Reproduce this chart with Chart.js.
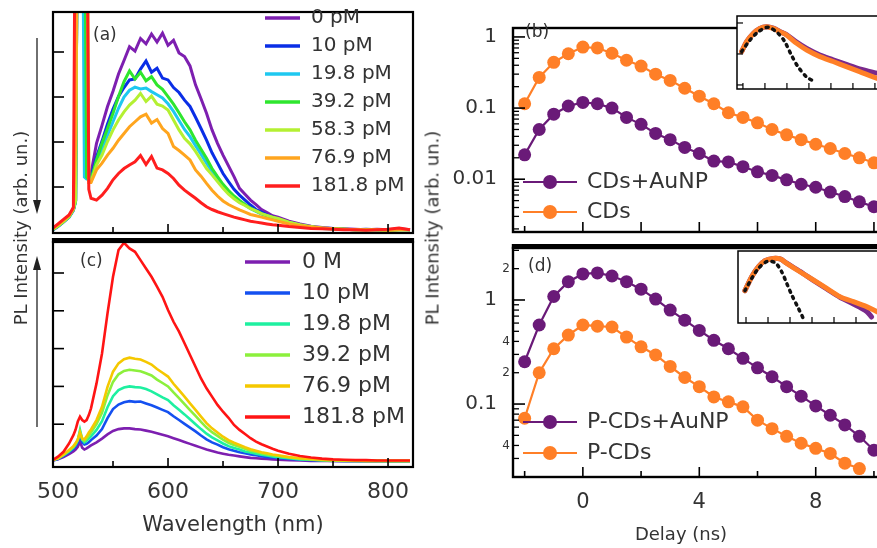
<!DOCTYPE html>
<html>
<head>
<meta charset="utf-8">
<title>PL spectra and decays</title>
<script src="https://cdn.jsdelivr.net/npm/chart.js@4.4.1/dist/chart.umd.min.js"></script>
<style>
  html, body { margin: 0; padding: 0; background: #fff; }
  #fig { position: relative; width: 877px; height: 548px; overflow: hidden; font-family: "DejaVu Sans", sans-serif; color: #333; }
  #fig canvas { position: absolute; }
  .ylab { position: absolute; font-size: 18px; white-space: nowrap; transform: translate(-50%, -50%) rotate(-90deg); }
  #arrows { position: absolute; left: 0; top: 0; }
</style>
</head>
<body>
<div id="fig">
  <canvas id="cA" width="440" height="240" style="left:0;top:0"></canvas>
  <canvas id="cC" width="440" height="318" style="left:0;top:230px"></canvas>
  <canvas id="cB" width="455" height="260" style="left:440px;top:0"></canvas>
  <canvas id="cD" width="455" height="318" style="left:440px;top:230px"></canvas>
  <canvas id="cBi" width="180" height="100" style="left:720px;top:0"></canvas>
  <canvas id="cDi" width="180" height="100" style="left:720px;top:240px"></canvas>
  <div class="ylab" style="left:20px;top:228px">PL Intensity (arb. un.)</div>
  <div class="ylab" style="left:432px;top:228px">PL Intensity (arb. un.)</div>
  <svg id="arrows" width="60" height="548">
    <line x1="37" y1="38" x2="37" y2="202" stroke="#222" stroke-width="1.3"/>
    <polygon points="33,200 41,200 37,214" fill="#222"/>
    <line x1="37" y1="427" x2="37" y2="268" stroke="#222" stroke-width="1.3"/>
    <polygon points="33,270 41,270 37,256" fill="#222"/>
  </svg>
</div>
<script>
// ---- spectra (a) and (c): shared wavelength grid (nm) ----
const wavelengths = [495, 500, 505, 510, 514, 516, 518, 520, 522, 524, 526, 528,
  530, 535, 540, 545, 550, 555, 560, 565, 570, 575, 580, 585, 590, 595, 600, 605, 610, 615,
  620, 625, 630, 635, 640, 645, 650, 655, 660, 665, 670, 675, 680, 685, 690, 695, 700,
  710, 720, 730, 740, 750, 760, 770, 780, 790, 800, 810, 820];

const labelsA = ['0 pM', '10 pM', '19.8 pM', '39.2 pM', '58.3 pM', '76.9 pM', '181.8 pM'];
const colorsA = ['#7d1fb0', '#0a2ee6', '#1ec8f0', '#2ee62e', '#b4f032', '#ffa51e', '#ff1e1e'];

const a0 = [0.06, 0.14, 0.24, 0.34, 0.50, 0.70, 9, 9, 9, 9, 1.30, 1.20,
  1.30, 1.97, 2.37, 2.79, 3.13, 3.51, 3.81, 4.12, 4.02, 4.30, 4.18, 4.40, 4.22, 4.42, 4.15, 4.26, 3.98, 3.90,
  3.69, 3.27, 2.96, 2.64, 2.27, 1.97, 1.71, 1.47, 1.23, 0.97, 0.84, 0.71, 0.61, 0.50, 0.43, 0.36, 0.33,
  0.24, 0.18, 0.13, 0.10, 0.08, 0.07, 0.06, 0.05, 0.06, 0.05, 0.07, 0.05];
const a1 = [0.04, 0.12, 0.22, 0.33, 0.48, 0.68, 9, 9, 9, 9, 1.25, 1.18,
  1.23, 1.67, 2.02, 2.40, 2.73, 3.01, 3.21, 3.38, 3.40, 3.62, 3.80, 3.55, 3.64, 3.42, 3.38, 3.21, 3.10, 2.93,
  2.79, 2.55, 2.30, 2.04, 1.76, 1.53, 1.30, 1.12, 0.95, 0.82, 0.71, 0.60, 0.50, 0.44, 0.38, 0.33, 0.29,
  0.21, 0.15, 0.11, 0.09, 0.08, 0.06, 0.05, 0.06, 0.05, 0.04, 0.06, 0.05];
const a2 = [0.05, 0.13, 0.23, 0.33, 0.49, 0.69, 9, 9, 9, 1.22, 1.18, 1.16,
  1.14, 1.55, 1.85, 2.15, 2.45, 2.75, 3.00, 3.15, 3.22, 3.18, 3.20, 3.12, 3.05, 2.98, 2.85, 2.68, 2.48, 2.28,
  2.12, 1.92, 1.73, 1.53, 1.34, 1.17, 1.02, 0.88, 0.77, 0.68, 0.60, 0.52, 0.46, 0.40, 0.36, 0.32, 0.29,
  0.21, 0.15, 0.11, 0.08, 0.07, 0.06, 0.05, 0.05, 0.05, 0.04, 0.05, 0.05];
const a3 = [0.05, 0.13, 0.23, 0.34, 0.50, 0.70, 9, 9, 9, 9, 1.22, 1.16,
  1.16, 1.60, 1.97, 2.30, 2.64, 3.01, 3.34, 3.58, 3.40, 3.55, 3.36, 3.45, 3.27, 3.17, 3.01, 2.84, 2.65, 2.45,
  2.27, 2.04, 1.84, 1.64, 1.41, 1.23, 1.06, 0.92, 0.80, 0.70, 0.61, 0.53, 0.47, 0.41, 0.36, 0.33, 0.29,
  0.21, 0.15, 0.11, 0.08, 0.07, 0.06, 0.05, 0.05, 0.05, 0.04, 0.05, 0.05];
const a4 = [0.05, 0.13, 0.23, 0.34, 0.50, 0.70, 9, 9, 9, 9, 9, 1.14,
  1.12, 1.49, 1.71, 2.01, 2.27, 2.49, 2.67, 2.82, 2.93, 3.08, 2.90, 3.02, 2.84, 2.80, 2.71, 2.49, 2.27, 2.08,
  1.96, 1.79, 1.60, 1.41, 1.27, 1.12, 0.97, 0.84, 0.74, 0.65, 0.59, 0.52, 0.47, 0.41, 0.37, 0.33, 0.30,
  0.22, 0.16, 0.12, 0.09, 0.07, 0.06, 0.05, 0.05, 0.05, 0.04, 0.05, 0.05];
const a5 = [0.07, 0.16, 0.26, 0.36, 0.52, 2.0, 9, 9, 9, 9, 9, 1.10,
  1.10, 1.38, 1.53, 1.71, 1.86, 2.04, 2.19, 2.34, 2.45, 2.56, 2.62, 2.42, 2.50, 2.30, 2.19, 1.90, 1.81, 1.71,
  1.60, 1.38, 1.24, 1.08, 0.93, 0.80, 0.69, 0.61, 0.55, 0.49, 0.44, 0.39, 0.36, 0.33, 0.30, 0.27, 0.24,
  0.18, 0.14, 0.11, 0.09, 0.07, 0.06, 0.05, 0.05, 0.05, 0.04, 0.05, 0.05];
const a6 = [0.08, 0.18, 0.28, 0.38, 0.55, 9, 9, 9, 9, 9, 9, 0.95,
  0.75, 0.71, 0.82, 0.97, 1.16, 1.30, 1.41, 1.49, 1.56, 1.70, 1.50, 1.68, 1.42, 1.38, 1.30, 1.19, 1.04, 0.93,
  0.84, 0.75, 0.65, 0.56, 0.50, 0.45, 0.41, 0.37, 0.33, 0.30, 0.27, 0.24, 0.22, 0.20, 0.18, 0.16, 0.15,
  0.12, 0.10, 0.08, 0.07, 0.06, 0.05, 0.05, 0.04, 0.05, 0.06, 0.09, 0.05];

const labelsC = ['0 M', '10 pM', '19.8 pM', '39.2 pM', '76.9 pM', '181.8 pM'];
const colorsC = ['#7d1fb0', '#1450f0', '#1ef0a0', '#8cf03c', '#f5c800', '#ff1414'];

const c0 = [0.04, 0.07, 0.13, 0.21, 0.28, 0.33, 0.40, 0.55, 0.38, 0.33, 0.36, 0.40,
  0.44, 0.52, 0.62, 0.73, 0.82, 0.87, 0.89, 0.89, 0.87, 0.86, 0.83, 0.80, 0.76, 0.72, 0.68, 0.63, 0.58, 0.53,
  0.48, 0.43, 0.38, 0.33, 0.29, 0.25, 0.22, 0.19, 0.17, 0.15, 0.13, 0.11, 0.10, 0.09, 0.08, 0.07, 0.06,
  0.05, 0.04, 0.03, 0.03, 0.03, 0.02, 0.02, 0.02, 0.02, 0.02, 0.02, 0.02];
const c1 = [0.04, 0.08, 0.16, 0.26, 0.35, 0.42, 0.52, 0.72, 0.52, 0.46, 0.48, 0.52,
  0.58, 0.70, 0.87, 1.16, 1.40, 1.52, 1.58, 1.61, 1.59, 1.60, 1.55, 1.50, 1.44, 1.38, 1.32, 1.21, 1.11, 1.01,
  0.91, 0.81, 0.70, 0.60, 0.52, 0.46, 0.39, 0.34, 0.30, 0.26, 0.23, 0.20, 0.18, 0.15, 0.13, 0.12, 0.11,
  0.08, 0.06, 0.05, 0.04, 0.03, 0.03, 0.03, 0.02, 0.02, 0.02, 0.02, 0.02];
const c2 = [0.05, 0.09, 0.18, 0.28, 0.38, 0.46, 0.58, 0.85, 0.60, 0.52, 0.56, 0.62,
  0.68, 0.85, 1.08, 1.45, 1.74, 1.90, 1.97, 2.00, 1.98, 1.97, 1.93, 1.87, 1.79, 1.71, 1.64, 1.50, 1.38, 1.26,
  1.13, 1.00, 0.87, 0.75, 0.65, 0.57, 0.49, 0.42, 0.37, 0.33, 0.28, 0.25, 0.22, 0.19, 0.17, 0.15, 0.13,
  0.10, 0.07, 0.06, 0.05, 0.04, 0.03, 0.03, 0.03, 0.03, 0.02, 0.02, 0.02];
const c3 = [0.05, 0.10, 0.19, 0.30, 0.40, 0.48, 0.58, 0.80, 0.60, 0.56, 0.62, 0.70,
  0.78, 1.00, 1.30, 1.76, 2.12, 2.32, 2.41, 2.44, 2.42, 2.40, 2.35, 2.29, 2.18, 2.09, 2.00, 1.84, 1.69, 1.53,
  1.37, 1.22, 1.06, 0.91, 0.79, 0.69, 0.59, 0.51, 0.45, 0.40, 0.35, 0.30, 0.27, 0.23, 0.20, 0.18, 0.16,
  0.12, 0.09, 0.07, 0.05, 0.04, 0.04, 0.03, 0.03, 0.03, 0.03, 0.03, 0.03];
const c4 = [0.05, 0.10, 0.20, 0.32, 0.42, 0.50, 0.60, 0.78, 0.62, 0.60, 0.68, 0.78,
  0.86, 1.11, 1.46, 1.99, 2.39, 2.61, 2.72, 2.76, 2.73, 2.71, 2.65, 2.58, 2.46, 2.36, 2.26, 2.07, 1.90, 1.73,
  1.55, 1.38, 1.20, 1.03, 0.89, 0.78, 0.67, 0.58, 0.51, 0.45, 0.39, 0.34, 0.30, 0.26, 0.23, 0.20, 0.18,
  0.13, 0.10, 0.08, 0.06, 0.05, 0.04, 0.04, 0.03, 0.03, 0.03, 0.03, 0.03];
const c5 = [0.05, 0.14, 0.27, 0.49, 0.71, 0.86, 1.07, 1.20, 1.11, 1.07, 1.11, 1.24,
  1.42, 2.08, 2.87, 3.93, 4.90, 5.61, 5.80, 5.65, 5.56, 5.34, 5.12, 4.90, 4.64, 4.37, 4.02, 3.71, 3.45, 3.14,
  2.83, 2.52, 2.21, 1.95, 1.73, 1.51, 1.33, 1.17, 0.98, 0.85, 0.74, 0.63, 0.54, 0.47, 0.41, 0.35, 0.30,
  0.22, 0.16, 0.12, 0.09, 0.07, 0.06, 0.05, 0.05, 0.04, 0.04, 0.04, 0.04];

const wlTicks = [500, 600, 700, 800];

// ---- decays (b) and (d) ----
const delays = [-2, -1.5, -1, -0.5, 0, 0.5, 1, 1.5, 2, 2.5, 3, 3.5, 4, 4.5, 5, 5.5, 6, 6.5, 7, 7.5, 8, 8.5, 9, 9.5, 10];
const bLabels = ['CDs+AuNP', 'CDs'];
const bPurple = [0.022, 0.050, 0.082, 0.107, 0.120, 0.115, 0.100, 0.074, 0.059, 0.044, 0.036, 0.028, 0.023,
  0.018, 0.0175, 0.015, 0.0127, 0.0113, 0.0098, 0.0085, 0.0077, 0.0066, 0.0057, 0.0048, 0.0041];
const bOrange = [0.115, 0.27, 0.44, 0.58, 0.72, 0.70, 0.59, 0.47, 0.39, 0.30, 0.245, 0.19, 0.147,
  0.115, 0.086, 0.074, 0.062, 0.050, 0.042, 0.036, 0.031, 0.027, 0.023, 0.020, 0.017];
const dLabels = ['P-CDs+AuNP', 'P-CDs'];
const dPurple = [0.255, 0.575, 1.08, 1.50, 1.78, 1.82, 1.70, 1.50, 1.27, 1.02, 0.80, 0.64, 0.51,
  0.41, 0.34, 0.275, 0.223, 0.183, 0.147, 0.119, 0.096, 0.078, 0.063, 0.049, 0.036];
const dOrange = [0.073, 0.20, 0.34, 0.46, 0.575, 0.56, 0.55, 0.44, 0.355, 0.296, 0.23, 0.18, 0.147,
  0.117, 0.105, 0.094, 0.070, 0.058, 0.049, 0.042, 0.0375, 0.0335, 0.027, 0.024];

const bTicks = [0.01, 0.1, 1];
const bTickLabels = ['0.01', '0.1', '1'];
const dTicks = [0.1, 1];
const dTickLabels = ['0.1', '1'];
const dSmallTicks = [0.04, 0.2, 0.4, 2];
const dSmallLabels = ['4', '2', '4', '2'];
const delayTicks = [0, 4, 8];

// ---- insets (normalised decays with instrument response) ----
const ibX = [-0.06, 0.17, 0.47, 0.77, 1.08, 1.38, 1.68, 1.98, 2.44, 2.9, 3.5, 4.1, 4.7, 5.3, 6.1, 7.0];
const ibOrange = [0.119, 0.25, 0.46, 0.67, 0.76, 0.67, 0.52, 0.41, 0.22, 0.134, 0.082, 0.057, 0.039, 0.027, 0.0164, 0.011];
const ibPurple = [0.119, 0.25, 0.46, 0.67, 0.76, 0.68, 0.53, 0.42, 0.24, 0.15, 0.092, 0.065, 0.046, 0.033, 0.024, 0.017];
const ibIrfX = [-0.06, 0.32, 0.7, 1.15, 1.6, 1.9, 2.2, 2.5, 2.9, 3.27];
const ibIrf = [0.119, 0.28, 0.52, 0.73, 0.46, 0.25, 0.093, 0.039, 0.018, 0.0128];

const idX = [-0.05, 0.26, 0.56, 0.86, 1.24, 1.55, 1.85, 2.45, 3.06, 3.67, 4.27, 4.88, 5.48, 5.95, 6.8];
const idOrange = [0.088, 0.25, 0.52, 0.82, 0.97, 0.93, 0.67, 0.36, 0.195, 0.105, 0.056, 0.039, 0.027, 0.0186, 0.011];
const idPurpleX = [-0.05, 0.26, 0.56, 0.86, 1.24, 1.55, 1.85, 2.45, 3.06, 3.67, 4.27, 4.88, 5.48, 5.71];
const idPurple = [0.088, 0.25, 0.52, 0.82, 0.97, 0.93, 0.68, 0.37, 0.19, 0.10, 0.054, 0.033, 0.019, 0.0125];
const idIrfX = [-0.05, 0.26, 0.56, 0.94, 1.32, 1.62, 1.85, 2.08, 2.38, 2.6];
const idIrf = [0.088, 0.22, 0.46, 0.76, 0.71, 0.36, 0.153, 0.064, 0.024, 0.0114];

const PURPLE = '#6a1a78';
const ORANGE = '#ff7f27';

Chart.defaults.font.family = '"DejaVu Sans", sans-serif';
Chart.defaults.color = '#333';
Chart.defaults.animation = false;

const pts = (xs, ys) => ys.map((y, k) => ({ x: xs[k], y: y }));

function logMinors(lo, hi) {
  const out = [];
  for (let d = 0.001; d < 10; d *= 10) {
    for (let k = 2; k <= 9; k++) {
      const v = d * k;
      if (v > lo && v < hi) out.push(v);
    }
  }
  return out;
}

// frame, inward tick marks, optional white background
const panelMarks = {
  id: 'panelMarks',
  beforeDatasetsDraw(chart, args, o) {
    if (!o.bg) return;
    const a = chart.chartArea, ctx = chart.ctx;
    ctx.save();
    ctx.fillStyle = o.bg;
    ctx.fillRect(a.left, a.top, a.right - a.left, a.bottom - a.top);
    ctx.restore();
  },
  afterDatasetsDraw(chart, args, o) {
    const { ctx, chartArea: a, scales } = chart;
    ctx.save();
    ctx.strokeStyle = '#000';
    ctx.fillStyle = '#000';
    ctx.lineWidth = o.width;
    ctx.strokeRect(a.left, a.top, a.right - a.left, a.bottom - a.top);
    if (o.topBar) {
      ctx.fillRect(a.left - o.width / 2, a.top - o.topBar + 1, a.right - a.left + o.width, o.topBar);
    }
    (o.ticks || []).forEach(t => {
      const s = scales[t.scale];
      ctx.lineWidth = t.w || 1.6;
      t.at.forEach(v => {
        const p = s.getPixelForValue(v);
        ctx.beginPath();
        if (t.side === 'bottom') {
          ctx.moveTo(p, a.bottom);
          ctx.lineTo(p, a.bottom - t.len);
        } else {
          ctx.moveTo(a.left, p);
          ctx.lineTo(a.left + t.len, p);
        }
        ctx.stroke();
      });
    });
    ctx.restore();
  }
};

// panel tag, in-plot legend, optional free axis title
const keys = {
  id: 'keys',
  afterDraw(chart, args, o) {
    const ctx = chart.ctx;
    ctx.save();
    ctx.textBaseline = 'middle';
    ctx.textAlign = 'left';
    ctx.fillStyle = '#333';
    if (o.tag) {
      ctx.font = '17px "DejaVu Sans"';
      ctx.fillText(o.tag, o.tagX, o.tagY);
    }
    if (o.title) {
      ctx.font = o.title.font;
      ctx.textAlign = 'center';
      ctx.fillText(o.title.text, o.title.x, o.title.y);
      ctx.textAlign = 'left';
    }
    if (o.rows) {
      chart.data.datasets.forEach((ds, i) => {
        const y = o.y0 + i * o.dy;
        ctx.strokeStyle = ds.borderColor;
        ctx.lineWidth = o.lw;
        ctx.beginPath();
        ctx.moveTo(o.x0, y);
        ctx.lineTo(o.x1, y);
        ctx.stroke();
        if (o.dot) {
          ctx.fillStyle = ds.borderColor;
          ctx.beginPath();
          ctx.arc((o.x0 + o.x1) / 2, y, o.dot, 0, 2 * Math.PI);
          ctx.fill();
        }
        ctx.fillStyle = '#333';
        ctx.font = o.font;
        ctx.fillText(ds.label, o.tx, y);
      });
    }
    ctx.restore();
  }
};

function spectrum(label, values, color, width, i) {
  return { label: label, data: pts(wavelengths, values), borderColor: color, borderWidth: width,
    pointRadius: 0, tension: 0, order: -i };
}

function decay(label, values, color) {
  return { label: label, data: pts(delays, values), borderColor: color, backgroundColor: color,
    pointBackgroundColor: color, pointBorderWidth: 0, pointRadius: 6.5, borderWidth: 2.2, tension: 0 };
}

function insetLine(xs, ys, color, dashed) {
  return { data: pts(xs, ys), borderColor: color, borderWidth: dashed ? 3.5 : 5, pointRadius: 0,
    borderDash: dashed ? [2, 5] : [], borderCapStyle: 'round', borderJoinStyle: 'round', tension: 0.3 };
}

const noAxis = { display: false };
const quiet = { legend: { display: false }, tooltip: { enabled: false } };
const wlMarks = [
  { scale: 'x', side: 'bottom', at: [600, 700, 800], len: 9 },
  { scale: 'x', side: 'bottom', at: [550, 650, 750], len: 6 }
];

// (a)
new Chart(document.getElementById('cA'), {
  type: 'line',
  data: { datasets: [a0, a1, a2, a3, a4, a5, a6].map((v, i) => spectrum(labelsA[i], v, colorsA[i], 3, i)) },
  options: {
    responsive: false, events: [],
    layout: { padding: { left: 53, top: 12, right: 27, bottom: 7 } },
    scales: {
      x: Object.assign({ type: 'linear', min: 495.45, max: 822.7 }, noAxis),
      y: Object.assign({ type: 'linear', min: -0.022, max: 4.889 }, noAxis)
    },
    plugins: Object.assign({
      panelMarks: { width: 2.2, ticks: wlMarks.concat([{ scale: 'y', side: 'left', at: [1, 2, 3, 4], len: 11 }]) },
      keys: { tag: '(a)', tagX: 93, tagY: 36, rows: true, x0: 265, x1: 300, tx: 311, y0: 18, dy: 28,
        lw: 3.5, font: '20px "DejaVu Sans"' }
    }, quiet)
  },
  plugins: [panelMarks, keys]
});

// (c)
new Chart(document.getElementById('cC'), {
  type: 'line',
  data: { datasets: [c0, c1, c2, c3, c4, c5].map((v, i) => spectrum(labelsC[i], v, colorsC[i], 2.6, i)) },
  options: {
    responsive: false, events: [],
    layout: { padding: { left: 53, top: 12, right: 27, bottom: 10 } },
    scales: {
      x: {
        type: 'linear', min: 495.45, max: 822.7,
        grid: { display: false, drawTicks: false }, border: { display: false },
        afterBuildTicks: s => { s.ticks = wlTicks.map(v => ({ value: v })); },
        ticks: { font: { size: 22 }, padding: 12, autoSkip: false, maxRotation: 0, color: '#333' },
        title: { display: true, text: 'Wavelength (nm)', font: { size: 21 }, padding: 0, color: '#333' },
        afterFit: s => { s.height = 71; }
      },
      y: Object.assign({ type: 'linear', min: -0.132, max: 5.82 }, noAxis)
    },
    plugins: Object.assign({
      panelMarks: { width: 2.2, topBar: 5, ticks: wlMarks.concat([{ scale: 'y', side: 'left', at: [1, 2, 3, 4, 5], len: 11 }]) },
      keys: { tag: '(c)', tagX: 80, tagY: 32, rows: true, x0: 245, x1: 290, tx: 302, y0: 32, dy: 31,
        lw: 3.5, font: '22px "DejaVu Sans"' }
    }, quiet)
  },
  plugins: [panelMarks, keys]
});

// (b)
new Chart(document.getElementById('cB'), {
  type: 'line',
  data: { datasets: [decay(bLabels[0], bPurple, PURPLE), decay(bLabels[1], bOrange, ORANGE)] },
  options: {
    responsive: false, events: [],
    layout: { padding: { left: 0, top: 12, right: 5, bottom: 20 } },
    scales: {
      x: Object.assign({ type: 'linear', min: -2.4, max: 10.5 }, noAxis),
      y: {
        type: 'logarithmic', min: 0.00181, max: 1.336,
        grid: { display: false, drawTicks: false }, border: { display: false },
        afterBuildTicks: s => { s.ticks = bTicks.map(v => ({ value: v })); },
        ticks: { font: { size: 20 }, padding: 16, autoSkip: false, color: '#333', callback: (v, i) => bTickLabels[i] },
        afterFit: s => { s.width = 73; }
      }
    },
    plugins: Object.assign({
      panelMarks: { width: 2.4, ticks: [
        { scale: 'y', side: 'left', at: bTicks, len: 12 },
        { scale: 'y', side: 'left', at: logMinors(0.00181, 1.336), len: 6, w: 1.3 },
        { scale: 'x', side: 'bottom', at: [0, 2, 4, 6, 8, 10], len: 10 },
        { scale: 'x', side: 'bottom', at: [-2], len: 6 }
      ] },
      keys: { tag: '(b)', tagX: 85, tagY: 33, rows: true, x0: 83, x1: 137, tx: 147, y0: 182, dy: 30,
        lw: 2.2, dot: 7, font: '22px "DejaVu Sans"' }
    }, quiet)
  },
  plugins: [panelMarks, keys]
});

// (d)
const dMin = 0.0199, dMax = 3.16;
new Chart(document.getElementById('cD'), {
  type: 'line',
  data: { datasets: [decay(dLabels[0], dPurple, PURPLE), decay(dLabels[1], dOrange, ORANGE)] },
  options: {
    responsive: false, events: [],
    layout: { padding: { left: 0, top: 18, right: 5, bottom: 3 } },
    scales: {
      x: {
        type: 'linear', min: -2.4, max: 10.5,
        grid: { display: false, drawTicks: false }, border: { display: false },
        afterBuildTicks: s => { s.ticks = delayTicks.map(v => ({ value: v })); },
        ticks: { font: { size: 21 }, padding: 13, autoSkip: false, maxRotation: 0, color: '#333' },
        afterFit: s => { s.height = 68; }
      },
      y: {
        type: 'logarithmic', position: 'left', weight: 1, min: dMin, max: dMax,
        grid: { display: false, drawTicks: false }, border: { display: false },
        afterBuildTicks: s => { s.ticks = dTicks.map(v => ({ value: v })); },
        ticks: { font: { size: 20 }, padding: 2, autoSkip: false, color: '#333', callback: (v, i) => dTickLabels[i] },
        afterFit: s => { s.width = 59; }
      },
      y2: {
        type: 'logarithmic', position: 'left', weight: 0, min: dMin, max: dMax,
        grid: { display: false, drawTicks: false }, border: { display: false },
        afterBuildTicks: s => { s.ticks = dSmallTicks.map(v => ({ value: v })); },
        ticks: { font: { size: 12 }, padding: 3, autoSkip: false, color: '#333', callback: (v, i) => dSmallLabels[i] },
        afterFit: s => { s.width = 14; }
      }
    },
    plugins: Object.assign({
      panelMarks: { width: 2.4, topBar: 5, ticks: [
        { scale: 'y', side: 'left', at: dTicks, len: 12 },
        { scale: 'y', side: 'left', at: logMinors(dMin, dMax), len: 6, w: 1.3 },
        { scale: 'x', side: 'bottom', at: [0, 4, 8], len: 10 },
        { scale: 'x', side: 'bottom', at: [-2, 2, 6, 10], len: 6 }
      ] },
      keys: { tag: '(d)', tagX: 88, tagY: 37, rows: true, x0: 83, x1: 137, tx: 147, y0: 192, dy: 31,
        lw: 2.2, dot: 7, font: '22px "DejaVu Sans"',
        title: { text: 'Delay (ns)', x: 241, y: 305, font: '18px "DejaVu Sans"' } }
    }, quiet)
  },
  plugins: [panelMarks, keys]
});

// inset of (b)
new Chart(document.getElementById('cBi'), {
  type: 'line',
  data: { datasets: [insetLine(ibIrfX, ibIrf, '#111', true), insetLine(ibX, ibOrange, ORANGE, false), insetLine(ibX, ibPurple, '#7a2a8c', false)] },
  options: {
    responsive: false, events: [],
    layout: { padding: { left: 17, top: 16, right: 0, bottom: 11 } },
    scales: {
      x: Object.assign({ type: 'linear', min: -0.27, max: 7.14 }, noAxis),
      y: Object.assign({ type: 'logarithmic', min: 0.0074, max: 1.68 }, noAxis)
    },
    plugins: Object.assign({
      panelMarks: { width: 1.5, bg: '#fff', ticks: [
        { scale: 'x', side: 'bottom', at: [0, 1, 2, 3, 4, 5, 6, 7], len: 6, w: 1.2 },
        { scale: 'y', side: 'left', at: [1, 0.1, 0.01], len: 6, w: 1.2 }
      ] }
    }, quiet)
  },
  plugins: [panelMarks]
});

// inset of (d)
new Chart(document.getElementById('cDi'), {
  type: 'line',
  data: { datasets: [insetLine(idIrfX, idIrf, '#111', true), insetLine(idX, idOrange, ORANGE, false), insetLine(idPurpleX, idPurple, '#7a2a8c', false)] },
  options: {
    responsive: false, events: [],
    layout: { padding: { left: 18, top: 11, right: 0, bottom: 17 } },
    scales: {
      x: Object.assign({ type: 'linear', min: -0.364, max: 7.0 }, noAxis),
      y: Object.assign({ type: 'logarithmic', min: 0.008, max: 1.68 }, noAxis)
    },
    plugins: Object.assign({
      panelMarks: { width: 1.5, bg: '#fff', ticks: [
        { scale: 'x', side: 'bottom', at: [0, 1, 2, 3, 4, 5, 6, 7], len: 6, w: 1.2 }
      ] }
    }, quiet)
  },
  plugins: [panelMarks]
});
</script>
</body>
</html>
